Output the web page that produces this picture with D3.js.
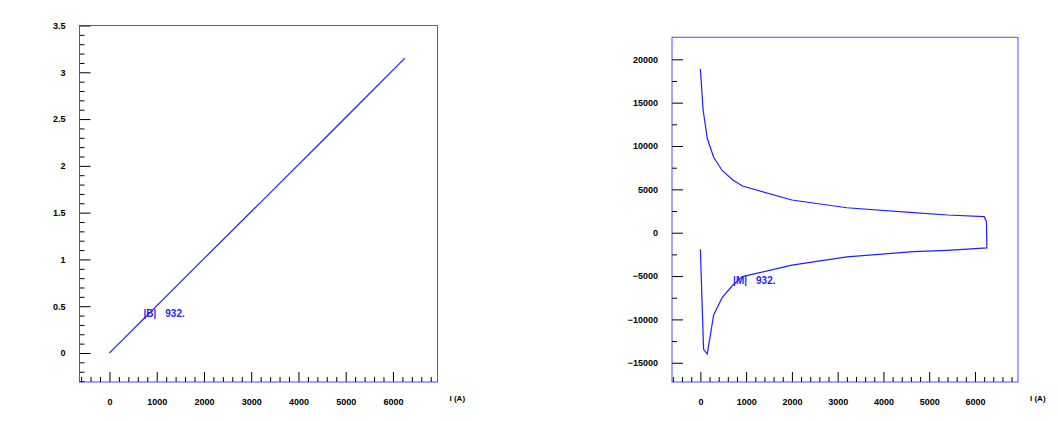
<!DOCTYPE html>
<html>
<head>
<meta charset="utf-8">
<script src="https://cdn.jsdelivr.net/npm/d3@7"></script>
<style>
  body { margin: 0; background: #fff; }
  svg text { font-family: "Liberation Sans", Arial, sans-serif; font-weight: bold; }
  .tick text { font-size: 9px; fill: #000; }
  .tick line { stroke: #000; }
</style>
</head>
<body>
<svg id="chart" width="1058" height="421"></svg>
<script>
// Current I (A), read along the outgoing and return branches
const currentUp = [0, 60, 150, 290, 480, 710, 920, 2000, 3200, 4650, 5400, 6200, 6250];
const currentDown = [6260, 5400, 4650, 3200, 2000, 920, 710, 480, 290, 150, 70, 0];

// |B| vs I (straight line)
const fieldB = [0, 0.03, 0.076, 0.146, 0.242, 0.358, 0.464, 1.008, 1.61, 2.34, 2.72, 3.125, 3.15];

// |M| vs I (loop)
const magUp = [18880, 14150, 10890, 8700, 7150, 6080, 5390, 3770, 2880, 2310, 2040, 1850, 1300];
const magDown = [-1750, -2030, -2190, -2790, -3730, -5070, -6030, -7450, -9490, -13990, -13450, -1915];

const xTicks = [0, 1000, 2000, 3000, 4000, 5000, 6000];
const bTicks = [0, 0.5, 1, 1.5, 2, 2.5, 3, 3.5];
const mTicks = [-15000, -10000, -5000, 0, 5000, 10000, 15000, 20000];

const labelB = { name: "|B|", value: "932.", x: 720, y: 0.39 };
const labelM = { name: "|M|", value: "932.", x: 715, y: -5900 };

const svg = d3.select("#chart");
const blue = "#1f1fff";

function drawPanel(cfg) {
    const g = svg.append("g");
    const x = d3.scaleLinear().domain(cfg.xDomain).range([cfg.left, cfg.right]);
    const y = d3.scaleLinear().domain(cfg.yDomain).range([cfg.bottom, cfg.top]);

    // minor ticks
    const xMinor = d3.range(-600, 6901, 200).filter(v => v % 1000 !== 0);
    g.append("g")
        .attr("transform", `translate(0,${cfg.bottom})`)
        .call(d3.axisBottom(x).tickValues(xMinor).tickSize(-5).tickFormat(""))
        .call(a => a.select(".domain").remove());
    g.append("g")
        .attr("transform", `translate(${cfg.left},0)`)
        .call(d3.axisLeft(y).tickValues(cfg.yMinor).tickSize(-5).tickFormat(""))
        .call(a => a.select(".domain").remove());

    // major ticks with labels
    g.append("g")
        .attr("transform", `translate(0,${cfg.bottom})`)
        .call(d3.axisBottom(x).tickValues(xTicks).tickSizeInner(-10).tickSizeOuter(0)
            .tickPadding(17).tickFormat(d3.format("d")))
        .call(a => a.select(".domain").remove());
    g.append("g")
        .attr("transform", `translate(${cfg.left},0)`)
        .call(d3.axisLeft(y).tickValues(cfg.yTicks).tickSizeInner(-11).tickSizeOuter(0)
            .tickPadding(14).tickFormat(cfg.yFormat))
        .call(a => a.select(".domain").remove());

    // frame
    g.append("rect")
        .attr("x", cfg.left).attr("y", cfg.top)
        .attr("width", cfg.right - cfg.left).attr("height", cfg.bottom - cfg.top)
        .attr("fill", "none").attr("stroke", blue).attr("stroke-width", 1)
        .attr("stroke-opacity", 0.8);

    // axis title
    g.append("text")
        .attr("x", cfg.right + 12).attr("y", cfg.bottom + 19)
        .attr("font-size", 8).attr("fill", "#000")
        .text("I (A)");

    // curve
    const line = d3.line().x(d => x(d[0])).y(d => y(d[1]));
    g.append("path")
        .datum(cfg.points)
        .attr("d", line)
        .attr("fill", "none").attr("stroke", blue).attr("stroke-width", 1.2);

    // value label
    const lab = g.append("text")
        .attr("x", x(cfg.label.x)).attr("y", y(cfg.label.y))
        .attr("font-size", 10).attr("fill", blue);
    lab.append("tspan").text(cfg.label.name);
    lab.append("tspan").attr("dx", 9).text(cfg.label.value);
}

drawPanel({
    left: 79.5, right: 437.5, top: 25.5, bottom: 382,
    xDomain: [-634, 6943], yDomain: [-0.31, 3.5],
    yTicks: bTicks,
    yMinor: d3.range(-3, 35).map(v => v / 10).filter(v => Math.round(v * 10) % 5 !== 0),
    yFormat: d => d3.format("")(d),
    points: d3.zip(currentUp, fieldB),
    label: labelB
});

drawPanel({
    left: 672, right: 1018, top: 37.3, bottom: 382,
    xDomain: [-620, 6940], yDomain: [-17220, 22540],
    yTicks: mTicks,
    yMinor: [-12500, -7500, -2500, 2500, 7500, 12500, 17500],
    yFormat: d3.format("d"),
    points: d3.zip(currentUp, magUp).concat(d3.zip(currentDown, magDown)),
    label: labelM
});
</script>
</body>
</html>
